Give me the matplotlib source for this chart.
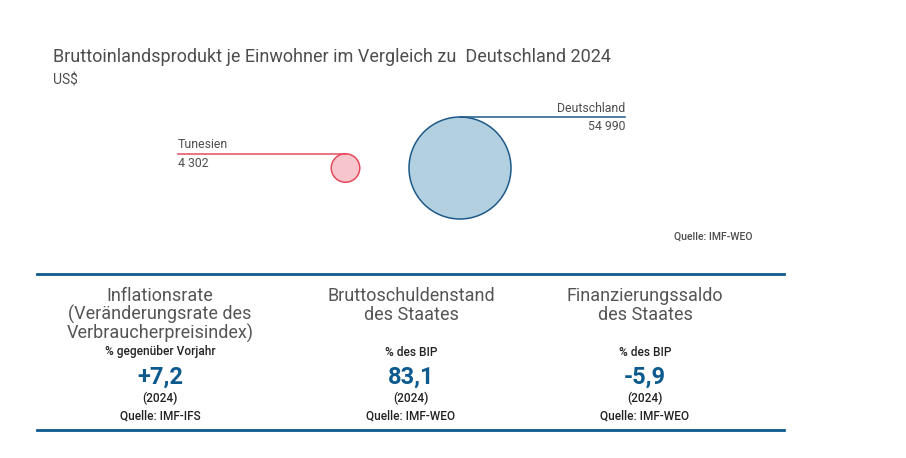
import matplotlib.pyplot as plt
import matplotlib.patches as mpatches
import numpy as np

plt.rcParams['font.family'] = ['Roboto', 'DejaVu Sans']

# Daten
laender = ['Tunesien', 'Deutschland']
bip_werte = [4302, 54990]
bip_labels = ['4 302', '54 990']

kennzahl_titel = [['Inflationsrate', '(Veränderungsrate des', 'Verbraucherpreisindex)'],
                  ['Bruttoschuldenstand', 'des Staates'],
                  ['Finanzierungssaldo', 'des Staates']]
kennzahl_einheit = ['% gegenüber Vorjahr', '% des BIP', '% des BIP']
kennzahl_werte = ['+7,2', '83,1', '-5,9']
kennzahl_jahr = ['(2024)', '(2024)', '(2024)']
kennzahl_quelle = ['Quelle: IMF-IFS', 'Quelle: IMF-WEO', 'Quelle: IMF-WEO']

# Farben
blau_dunkel = '#0d5a8f'
text_grau = '#4d4d4d'
farben_fill = ['#f7c6cd', '#b3d0e1']
farben_rand = ['#e5495c', '#1d5a8a']

fig = plt.figure(figsize=(9.06, 4.58), dpi=100)
ax = fig.add_axes([0, 0, 1, 1])
ax.set_xlim(0, 906)
ax.set_ylim(458, 0)
ax.axis('off')

# Titel
ax.text(53, 57, 'Bruttoinlandsprodukt je Einwohner im Vergleich zu  Deutschland 2024',
        fontsize=13, color=text_grau, va='center', ha='left')
ax.text(53, 80, 'US$', fontsize=10, color=text_grau, va='center', ha='left')

# Blasen (Fläche proportional zum Wert)
r_max = 51
radien = [r_max * np.sqrt(v / max(bip_werte)) for v in bip_werte]
x_pos = [345.5, 460]
y_mitte = 168
label_x = [178, 625]
for i in range(len(laender)):
    r = radien[i]
    kreis = mpatches.Circle((x_pos[i], y_mitte), r, facecolor=farben_fill[i],
                            edgecolor=farben_rand[i], linewidth=1.1)
    ax.add_patch(kreis)
    y_top = y_mitte - r
    ax.plot([label_x[i], x_pos[i]], [y_top, y_top], color=farben_rand[i], linewidth=1.1)
    ha = 'left' if label_x[i] < x_pos[i] else 'right'
    ax.text(label_x[i], y_top - 9, laender[i], fontsize=8.8, color=text_grau, ha=ha, va='center')
    ax.text(label_x[i], y_top + 10, bip_labels[i], fontsize=8.8, color=text_grau, ha=ha, va='center')

ax.text(752, 237, 'Quelle: IMF-WEO', fontsize=7.6, color=text_grau, ha='right', va='center',
        fontweight='medium')

# Trennlinien
ax.plot([37, 784], [273.5, 273.5], color=blau_dunkel, linewidth=2)
ax.plot([37, 784], [430, 430], color=blau_dunkel, linewidth=2)

# Kennzahlen
spalten_x = [160, 411, 645]
for i in range(3):
    x = spalten_x[i]
    for k, zeile in enumerate(kennzahl_titel[i]):
        ax.text(x, 296 + 18.5 * k, zeile, fontsize=13, color='#555555', ha='center', va='center')
    ax.text(x, 352, kennzahl_einheit[i], fontsize=8.6, color='#222222', ha='center', va='center',
            fontweight='medium')
    ax.text(x, 377, kennzahl_werte[i], fontsize=17, color=blau_dunkel, ha='center', va='center',
            fontweight='bold')
    ax.text(x, 398, kennzahl_jahr[i], fontsize=8.6, color='#222222', ha='center', va='center',
            fontweight='medium')
    ax.text(x, 416, kennzahl_quelle[i], fontsize=8.6, color='#222222', ha='center', va='center',
            fontweight='medium')

fig.savefig('out.png', dpi=100)
